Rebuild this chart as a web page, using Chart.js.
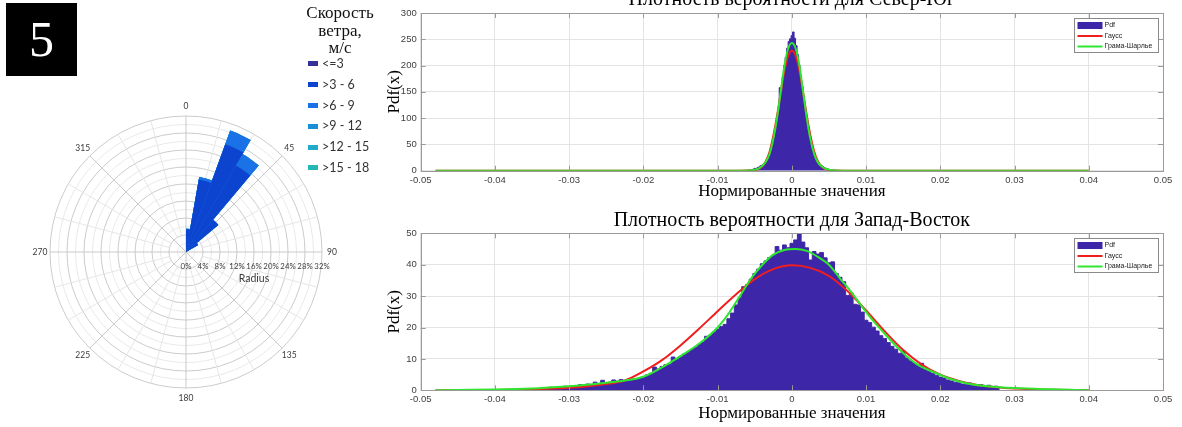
<!DOCTYPE html>
<html>
<head>
<meta charset="utf-8">
<script src="https://cdn.jsdelivr.net/npm/chart.js@4.4.0/dist/chart.umd.min.js"></script>
<style>
html,body{margin:0;padding:0;background:#fff;width:1182px;height:427px;overflow:hidden;position:relative}
canvas{position:absolute;display:block}
#box5{position:absolute;left:6px;top:3px;width:71px;height:73px;background:#000;color:#fff;font-family:'Liberation Serif',serif;font-size:50px;line-height:73px;text-align:center}
#legTitle{position:absolute;left:280px;top:4px;width:120px;text-align:center;font-family:'Liberation Serif',serif;font-size:17px;line-height:17.5px;color:#111}
.legItem{position:absolute;left:308px;height:16px;line-height:16px;font-family:Lato,'Liberation Sans',sans-serif;font-size:12.5px;color:#333;white-space:nowrap}
.legItem span{display:inline-block;width:10px;height:5px;margin-right:4px;vertical-align:middle;position:relative;top:-1px}
</style>
</head>
<body>
<canvas id="rose" width="380" height="427" style="left:0;top:0;width:380px;height:427px"></canvas>
<canvas id="histNS" width="802" height="235" style="left:380px;top:-30px;width:802px;height:235px"></canvas>
<canvas id="histWE" width="802" height="229" style="left:380px;top:198px;width:802px;height:229px"></canvas>
<div id="box5">5</div>
<div id="legTitle"></div>
<div id="legItems"></div>
<script>
// ---------------- Wind rose data ----------------
const panelNumber = '5';
const legendTitleLines = ['Скорость', 'ветра,', 'м/с'];
const directionLabels = ['0','10','20','30','40','50','60','70','80','90','100','110','120','130','140','150','160','170',
  '180','190','200','210','220','230','240','250','260','270','280','290','300','310','320','330','340','350'];
const speedClasses = ['<=3', '>3 - 6', '>6 - 9', '>9 - 12', '>12 - 15', '>15 - 18'];
const speedColors = ['#35309a', '#0c44cf', '#1a72e6', '#1b8fd6', '#22aacb', '#23b8b2'];
const freqUpTo3   = [0.3,0.5,0.6,0.5,0.3,0.2,0,0,0,0,0,0,0,0,0,0,0,0,0,0,0,0,0,0,0,0,0,0,0,0,0,0,0,0,0,0];
const freq3to6    = [5.0,16.8,26.4,23.0,9.6,3.1,0,0,0,0,0,0,0,0,0,0,0,0,0,0,0,0,0,0,0,0,0,0,0,0,0,0,0,0,0,0];
const freq6to9    = [0.2,0.6,3.4,3.1,0,0,0,0,0,0,0,0,0,0,0,0,0,0,0,0,0,0,0,0,0,0,0,0,0,0,0,0,0,0,0,0];
const freq9to12   = [0,0,0,0,0,0,0,0,0,0,0,0,0,0,0,0,0,0,0,0,0,0,0,0,0,0,0,0,0,0,0,0,0,0,0,0];
const freq12to15  = [0,0,0,0,0,0,0,0,0,0,0,0,0,0,0,0,0,0,0,0,0,0,0,0,0,0,0,0,0,0,0,0,0,0,0,0];
const freq15to18  = [0,0,0,0,0,0,0,0,0,0,0,0,0,0,0,0,0,0,0,0,0,0,0,0,0,0,0,0,0,0,0,0,0,0,0,0];
const compassTickValues = [0, 45, 90, 135, 180, 225, 270, 315];
const compassTickLabels = ['0', '45', '90', '135', '180', '225', '270', '315'];
const radiusTickValues = [0, 4, 8, 12, 16, 20, 24, 28, 32];
const radiusTickLabels = ['0%', '4%', '8%', '12%', '16%', '20%', '24%', '28%', '32%'];
const radiusAxisName = 'Radius';

// ---------------- Histogram data ----------------
const titleNS = 'Плотность вероятности для Север-Юг';
const titleWE = 'Плотность вероятности для Запад-Восток';
const xAxisTitle = 'Нормированные значения';
const yAxisTitle = 'Pdf(x)';
const seriesNames = ['Pdf', 'Гаусс', 'Грама-Шарлье'];
const xTickValues = [-0.05,-0.04,-0.03,-0.02,-0.01,0,0.01,0.02,0.03,0.04,0.05];
const xTickLabels = ['-0.05','-0.04','-0.03','-0.02','-0.01','0','0.01','0.02','0.03','0.04','0.05'];
const yTicksNS = [0,50,100,150,200,250,300];
const yTickLabelsNS = ['0','50','100','150','200','250','300'];
const yTicksWE = [0,10,20,30,40,50];
const yTickLabelsWE = ['0','10','20','30','40','50'];

// North-South histogram: bins from -0.006, width 0.0002
const histNSStart = -0.006, histNSStep = 0.0002;
const histNSValues = [0.5,0.8,1.2,1.9,2.8,4.5,3.8,6.0,7.2,9.5, 10.5,12.5,15,19,24,31,39,50,63,78,
  96,116,158,152,178,200,216,233,246,251, 257,
  264,252,238,221,201,181,160,139,118,98, 80,64,51,40,31,24,19,15,12,9.5, 7.5,6,4.5,3.5,2.6,1.8,1.2,0.8,0.5,0.3];
const gaussNSX = [-0.048,-0.007,-0.006,-0.0055,-0.005,-0.0045,-0.004,-0.0035,-0.003,-0.0025,-0.002,-0.0015,-0.001,-0.0005,0,
  0.0005,0.001,0.0015,0.002,0.0025,0.003,0.0035,0.004,0.0045,0.005,0.0055,0.006,0.007,0.04];
const gaussNSY = [0,0,0.3,0.6,1.2,3,8,18,36,66,104,148,190,218,228,219,192,150,106,67,37,18,8,3,1.2,0.5,0.2,0,0];
const gcNSY    = [0,0,0.4,0.9,1.8,4,9,17,32,60,100,150,200,232,243,233,202,152,101,60,32,16,8.5,4,1.8,0.8,0.4,0,0];

// West-East histogram: bins from -0.034, width 0.0005
const histWEStart = -0.034, histWEStep = 0.0005;
const histWEValues = [0.7,0.9,0.8,1.0,0.9,1.2,1.0,1.3,1.2,1.5,
  1.3,1.8,1.6,2.0,1.8,2.6,2.1,3.2,2.4,2.6,
  3.3,2.9,3.4,3.0,3.2,3.6,3.5,3.9,4.3,4.9,
  5.4,7.4,6.8,7.6,8.1,8.3,10.6,9.9,10.8,11.5,
  12.1,13.0,13.6,14.6,15.4,17.2,17.5,18.4,19.5,20.3,
  21.0,22.8,24.6,27.2,29.5,33.0,33.6,35.4,37.2,38.6,
  40.3,41.2,42.3,43.0,45.8,44.6,46.3,45.4,46.8,47.9,
  49.8,47.2,45.4,41.5,44.2,43.4,43.9,42.2,40.6,40.9,
  37.2,36.0,34.6,30.2,31.0,27.4,27.2,24.9,22.3,21.6,
  20.1,18.9,17.4,16.5,15.2,14.0,13.1,11.8,12.6,10.3,
  9.4,8.7,7.9,8.6,6.6,6.0,5.4,4.8,4.2,3.9,
  3.3,3.0,2.6,2.4,2.0,1.8,2.3,1.5,1.3,1.8,
  1.1,1.6,1.0,1.3,0.6];
const gaussWEX = [-0.048,-0.045,-0.04,-0.035,-0.03,-0.0275,-0.025,-0.0225,-0.02,-0.0175,-0.015,-0.0125,-0.01,-0.0075,-0.005,-0.0025,0,
  0.0025,0.005,0.0075,0.01,0.0125,0.015,0.0175,0.02,0.0225,0.025,0.0275,0.03,0.035,0.04];
const gaussWEY = [0,0.03,0.1,0.3,0.8,1.3,2.0,3.1,6.0,9.6,14.3,19.6,25.2,30.6,35.4,38.6,39.8,
  39.0,36.4,31.6,25.4,18.8,12.8,8.2,5.0,3.0,1.7,1.0,0.6,0.2,0];
const gcWEX = [-0.048,-0.045,-0.04,-0.035,-0.031,-0.028,-0.025,-0.0225,-0.02,-0.0175,-0.015,-0.0125,-0.01,-0.0085,-0.007,-0.0055,-0.004,-0.0025,-0.001,
  0.0005,0.002,0.0035,0.005,0.0065,0.008,0.0095,0.011,0.0125,0.014,0.0155,0.017,0.019,0.0215,0.024,0.027,0.03,0.035,0.04];
const gcWEY = [0,0.1,0.25,0.6,1.15,1.7,2.4,3.1,4.3,7.3,10.9,14.8,20.0,24.5,30.0,35.6,39.9,43.2,44.7,
  45.0,44.4,42.5,40.0,35.6,31.3,26.5,22.0,18.0,14.2,10.8,8.1,5.9,3.5,2.0,1.15,0.7,0.3,0];

// ---------------- Styles ----------------
const histColor = 'rgb(62,38,168)';
const gaussColor = '#f01e1e';
const gcColor = '#2ee62e';
const frameColor = '#9a9a9a';

// ---------------- Wind rose ----------------
document.getElementById('legTitle').innerHTML = legendTitleLines.join('<br>');
const legItems = document.getElementById('legItems');
speedClasses.forEach((name, k) => {
  const d = document.createElement('div');
  d.className = 'legItem';
  d.style.top = (56 + k * 20.8) + 'px';
  const sw = document.createElement('span');
  sw.style.background = speedColors[k];
  d.appendChild(sw);
  d.appendChild(document.createTextNode(name));
  legItems.appendChild(d);
});

const speedSeries = [freqUpTo3, freq3to6, freq6to9, freq9to12, freq12to15, freq15to18];
const cumulative = [];
speedSeries.forEach((arr, k) => {
  cumulative.push(arr.map((v, i) => v + (k > 0 ? cumulative[k - 1][i] : 0)));
});

function polarPt(s, deg, r) {
  const a = (deg - 90) * Math.PI / 180;
  return [s.xCenter + r * Math.cos(a), s.yCenter + r * Math.sin(a)];
}

const roseDecor = {
  id: 'roseDecor',
  beforeDatasetsDraw(chart) {
    const s = chart.scales.r, ctx = chart.ctx;
    const rMax = s.getDistanceFromCenterForValue(32);
    const rMin = s.getDistanceFromCenterForValue(4);
    ctx.save();
    ctx.lineWidth = 1;
    for (let deg = 0; deg < 360; deg += 15) {
      const major = deg % 45 === 0;
      ctx.strokeStyle = major ? '#c9c9c9' : '#e6e6e6';
      const p0 = polarPt(s, deg, major ? 0 : rMin);
      const p1 = polarPt(s, deg, rMax);
      ctx.beginPath(); ctx.moveTo(p0[0], p0[1]); ctx.lineTo(p1[0], p1[1]); ctx.stroke();
    }
    ctx.restore();
  },
  afterDraw(chart) {
    const s = chart.scales.r, ctx = chart.ctx;
    ctx.save();
    ctx.fillStyle = '#3a3a3a';
    ctx.textAlign = 'center';
    ctx.textBaseline = 'middle';
    ctx.font = '8.5px Lato, "Liberation Sans", sans-serif';
    const rl = s.getDistanceFromCenterForValue(32) + 10;
    compassTickValues.forEach((deg, i) => {
      const p = polarPt(s, deg, rl);
      ctx.fillText(compassTickLabels[i], p[0], p[1]);
    });
    ctx.font = '7.8px Lato, "Liberation Sans", sans-serif';
    radiusTickValues.forEach((v, i) => {
      ctx.fillText(radiusTickLabels[i], s.xCenter + s.getDistanceFromCenterForValue(v), s.yCenter + 14.5);
    });
    ctx.font = '10.5px Lato, "Liberation Sans", sans-serif';
    ctx.fillText(radiusAxisName, s.xCenter + s.getDistanceFromCenterForValue(16), s.yCenter + 27);
    ctx.restore();
  }
};

new Chart(document.getElementById('rose'), {
  type: 'polarArea',
  data: {
    labels: directionLabels,
    datasets: speedClasses.map((name, k) => ({
      label: name, data: cumulative[k], backgroundColor: speedColors[k], borderWidth: 0
    }))
  },
  options: {
    responsive: false, animation: false, devicePixelRatio: 1,
    layout: { padding: { left: 50, top: 116, right: 58, bottom: 39 } },
    plugins: { legend: { display: false }, tooltip: { enabled: false } },
    scales: {
      r: {
        min: 0, max: 32,
        ticks: { display: false, stepSize: 2 },
        grid: { circular: true, lineWidth: 1,
          color: (c) => (c.tick && Math.round(c.tick.value) % 4 === 0) ? '#cbcbcb' : '#e9e9e9' },
        angleLines: { display: false },
        pointLabels: { display: false }
      }
    }
  },
  plugins: [roseDecor]
});

// ---------------- Histograms ----------------
function binPoints(start, step, values) {
  return values.map((v, i) => ({ x: +(start + i * step).toFixed(6), y: v }));
}
function xyPoints(xs, ys) { return xs.map((x, i) => ({ x: x, y: ys[i] })); }

const axesDecor = {
  id: 'axesDecor',
  afterDatasetsDraw(chart) {
    const { ctx, chartArea: a, scales } = chart;
    ctx.save();
    ctx.strokeStyle = frameColor;
    ctx.lineWidth = 1;
    ctx.beginPath();
    scales.x.ticks.forEach(t => {
      const px = Math.round(scales.x.getPixelForValue(t.value)) + 0.5;
      ctx.moveTo(px, a.bottom); ctx.lineTo(px, a.bottom - 5);
      ctx.moveTo(px, a.top); ctx.lineTo(px, a.top + 5);
    });
    scales.y.ticks.forEach(t => {
      const py = Math.round(scales.y.getPixelForValue(t.value)) + 0.5;
      ctx.moveTo(a.left, py); ctx.lineTo(a.left + 5, py);
      ctx.moveTo(a.right, py); ctx.lineTo(a.right - 5, py);
    });
    ctx.stroke();
    ctx.strokeRect(Math.round(a.left) + 0.5, Math.round(a.top) + 0.5, Math.round(a.right - a.left), Math.round(a.bottom - a.top));
    // inner legend
    const w = 84, h = 34;
    const lx = Math.round(a.right - 5 - w) + 0.5, ly = Math.round(a.top + 5) + 0.5;
    ctx.fillStyle = '#fff';
    ctx.fillRect(lx, ly, w, h);
    ctx.strokeStyle = '#8a8a8a';
    ctx.strokeRect(lx, ly, w, h);
    const byName = {};
    chart.data.datasets.forEach(ds => { byName[ds.label] = ds; });
    ctx.font = '7px "Liberation Sans", sans-serif';
    ctx.textBaseline = 'middle';
    ctx.textAlign = 'left';
    seriesNames.forEach((name, i) => {
      const ds = byName[name];
      const cy = ly + 7 + i * 10.5;
      if (ds.fill) {
        ctx.fillStyle = ds.backgroundColor;
        ctx.fillRect(lx + 3, cy - 3.5, 25, 7);
      } else {
        ctx.strokeStyle = ds.borderColor;
        ctx.lineWidth = 2;
        ctx.beginPath(); ctx.moveTo(lx + 3, cy); ctx.lineTo(lx + 28, cy); ctx.stroke();
      }
      ctx.fillStyle = '#222';
      ctx.fillText(name, lx + 30, cy);
    });
    ctx.restore();
  }
};

function makeHist(id, o) {
  return new Chart(document.getElementById(id), {
    type: 'line',
    data: {
      datasets: [
        { label: seriesNames[2], data: o.gc, borderColor: gcColor, borderWidth: 2, pointRadius: 0, fill: false, cubicInterpolationMode: 'monotone' },
        { label: seriesNames[1], data: o.gauss, borderColor: gaussColor, borderWidth: 2, pointRadius: 0, fill: false, cubicInterpolationMode: 'monotone' },
        { label: seriesNames[0], data: o.hist, stepped: 'middle', fill: 'origin', backgroundColor: histColor, borderColor: histColor, borderWidth: 1, pointRadius: 0 }
      ]
    },
    options: {
      responsive: false, animation: false, devicePixelRatio: 1,
      layout: { padding: { top: o.padTop, right: 19, left: 0, bottom: 0 } },
      plugins: {
        legend: { display: false }, tooltip: { enabled: false },
        title: { display: true, text: o.title, fullSize: false, color: '#000',
          font: { family: 'Liberation Serif', size: 20, weight: 'normal', lineHeight: 1.2 },
          padding: { top: 0, bottom: o.titlePadB } }
      },
      scales: {
        x: {
          type: 'linear', min: -0.05, max: 0.05, offset: false,
          afterBuildTicks: s => { s.ticks = xTickValues.map(v => ({ value: v })); },
          afterFit: s => { s.height = o.xAxisH; },
          grid: { color: '#e4e4e4', drawTicks: false, lineWidth: 1 },
          border: { display: false },
          ticks: { padding: 3.5, color: '#404040', autoSkip: false, maxRotation: 0,
            font: { family: 'Liberation Sans', size: 9.5 }, callback: (v, i) => xTickLabels[i] },
          title: { display: true, text: xAxisTitle, color: '#000',
            font: { family: 'Liberation Serif', size: 17, lineHeight: 1.2 },
            padding: { top: 0, bottom: o.xTitlePadB } }
        },
        y: {
          type: 'linear', min: 0, max: o.yTicks[o.yTicks.length - 1],
          afterBuildTicks: s => { s.ticks = o.yTicks.map(v => ({ value: v })); },
          afterFit: s => { s.width = 40.7; },
          grid: { color: '#e4e4e4', drawTicks: false, lineWidth: 1 },
          border: { display: false },
          ticks: { padding: 4, color: '#404040', autoSkip: false,
            font: { family: 'Liberation Sans', size: 9.5 }, callback: (v, i) => o.yLabels[i] },
          title: { display: true, text: yAxisTitle, color: '#000',
            font: { family: 'Liberation Serif', size: 17, lineHeight: 1.2 },
            padding: { top: 4.8, bottom: 0 } }
        }
      }
    },
    plugins: [axesDecor]
  });
}

makeHist('histNS', {
  title: titleNS, padTop: 18.2, titlePadB: 0.8, xAxisH: 34.3, xTitlePadB: 3.1,
  yTicks: yTicksNS, yLabels: yTickLabelsNS,
  hist: binPoints(histNSStart, histNSStep, histNSValues),
  gauss: xyPoints(gaussNSX, gaussNSY),
  gc: xyPoints(gaussNSX, gcNSY)
});
makeHist('histWE', {
  title: titleWE, padTop: 10.5, titlePadB: 0.8, xAxisH: 36.7, xTitlePadB: 3.5,
  yTicks: yTicksWE, yLabels: yTickLabelsWE,
  hist: binPoints(histWEStart, histWEStep, histWEValues),
  gauss: xyPoints(gaussWEX, gaussWEY),
  gc: xyPoints(gcWEX, gcWEY)
});
</script>
</body>
</html>
